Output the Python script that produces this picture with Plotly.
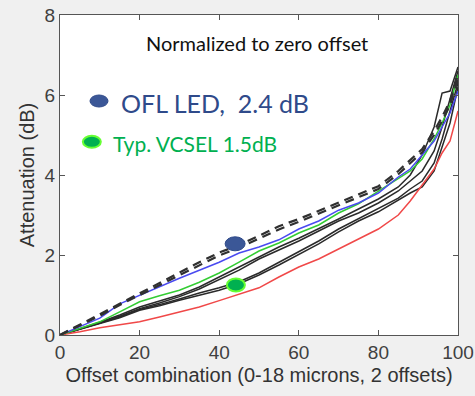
import plotly.graph_objects as go

x = [0, 5, 10, 15, 20, 25, 30, 35, 40, 45, 50, 55, 60, 65, 70, 75, 80, 85, 88, 91, 94, 96, 98, 100]

red = [0, 0.08, 0.18, 0.25, 0.33, 0.45, 0.57, 0.7, 0.86, 1.02, 1.18, 1.45, 1.7, 1.9, 2.15, 2.4, 2.65, 3.0, 3.35, 3.75, 4.15, 4.55, 4.85, 5.6]
dash1 = [0, 0.26, 0.52, 0.8, 1.06, 1.32, 1.57, 1.82, 2.06, 2.25, 2.48, 2.72, 2.9, 3.1, 3.3, 3.5, 3.72, 4.1, 4.38, 4.65, 5.1, 5.45, 5.85, 6.5]
dash2 = [0, 0.23, 0.48, 0.75, 1.0, 1.26, 1.5, 1.75, 1.99, 2.18, 2.4, 2.64, 2.83, 3.03, 3.23, 3.43, 3.65, 4.02, 4.3, 4.57, 5.0, 5.35, 5.75, 6.4]
blue = [0, 0.2, 0.42, 0.78, 1.0, 1.2, 1.42, 1.62, 1.82, 2.05, 2.2, 2.38, 2.65, 2.85, 3.12, 3.3, 3.55, 3.95, 4.15, 4.5, 4.85, 5.2, 5.55, 6.1]
green = [0, 0.17, 0.33, 0.58, 0.83, 0.98, 1.12, 1.32, 1.55, 1.82, 2.1, 2.3, 2.55, 2.75, 3.05, 3.28, 3.6, 3.9, 4.1, 4.4, 4.9, 5.3, 5.75, 6.5]
blackA = [0, 0.16, 0.32, 0.5, 0.7, 0.85, 1.0, 1.2, 1.45, 1.72, 1.95, 2.2, 2.42, 2.65, 2.9, 3.15, 3.4, 3.7, 4.0, 4.5, 5.2, 6.05, 6.1, 6.7]
blackB = [0, 0.15, 0.3, 0.47, 0.66, 0.8, 0.96, 1.15, 1.38, 1.62, 1.9, 2.12, 2.35, 2.6, 2.85, 3.05, 3.3, 3.6, 3.85, 4.1, 4.6, 5.2, 5.9, 6.6]
blackC = [0, 0.15, 0.29, 0.45, 0.64, 0.76, 0.9, 1.05, 1.18, 1.33, 1.55, 1.82, 2.1, 2.35, 2.65, 2.9, 3.15, 3.42, 3.65, 3.85, 4.3, 4.9, 5.6, 6.3]
blackD = [0, 0.14, 0.28, 0.43, 0.62, 0.73, 0.87, 1.0, 1.12, 1.28, 1.5, 1.75, 2.02, 2.28, 2.58, 2.85, 3.08, 3.38, 3.55, 3.7, 4.1, 4.7, 5.3, 6.2]

markers_x = [44, 44.2]
markers_y = [2.28, 1.25]

title_text = "Normalized to zero offset"
ofl_text = "OFL LED,  2.4 dB"
vcsel_text = "Typ. VCSEL 1.5dB"

fig = go.Figure()
for ys in [blackA, blackB, blackC, blackD]:
    fig.add_trace(go.Scatter(x=x, y=ys, mode="lines", line=dict(color="#2a2a2a", width=1.5)))
fig.add_trace(go.Scatter(x=x, y=red, mode="lines", line=dict(color="#f04848", width=1.5)))
fig.add_trace(go.Scatter(x=x, y=green, mode="lines", line=dict(color="#33cc33", width=1.5)))
fig.add_trace(go.Scatter(x=x, y=blue, mode="lines", line=dict(color="#4a4af0", width=1.5)))
for ys in [dash1, dash2]:
    fig.add_trace(go.Scatter(x=x, y=ys, mode="lines", line=dict(color="#303030", width=2.2, dash="9px,6px")))

shapes = []
def ell(cx, cy, w, h, fill, line, lw):
    return dict(type="circle", xref="x", yref="y", xsizemode="pixel", ysizemode="pixel",
                xanchor=cx, yanchor=cy, x0=-w/2, x1=w/2, y0=-h/2, y1=h/2,
                fillcolor=fill, line=dict(color=line, width=lw), layer="above")

shapes.append(ell(markers_x[0], markers_y[0], 20, 14, "#3b5797", "#2f4a8a", 1))
shapes.append(ell(markers_x[1], markers_y[1], 18, 13, "#00b050", "#66ff33", 2))
shapes.append(ell(9.8, 5.85, 18, 12, "#3b5797", "#2f4a8a", 1))
shapes.append(ell(8.0, 4.83, 18, 12, "#00b050", "#66ff33", 2))

annotations = [
    dict(x=49.5, y=7.3, xref="x", yref="y", text=title_text, showarrow=False,
         font=dict(family="Lato", size=20, color="#111111")),
    dict(x=14.8, y=5.8, xref="x", yref="y", text=ofl_text, showarrow=False, xanchor="left",
         font=dict(family="Lato", size=25, color="#2f4a8a")),
    dict(x=12.7, y=4.8, xref="x", yref="y", text=vcsel_text, showarrow=False, xanchor="left",
         font=dict(family="Lato", size=21, color="#00b050")),
]

axis_common = dict(showline=True, linecolor="#555555", linewidth=1.2, mirror="ticks",
                   ticks="inside", ticklen=5, tickcolor="#555555", showgrid=False, zeroline=False,
                   automargin=False,
                   tickfont=dict(family="Liberation Sans, Arial", size=19, color="#404040"))

fig.update_layout(
    width=475, height=396, margin=dict(l=60, r=17, t=15, b=61),
    paper_bgcolor="#f0f0f0", plot_bgcolor="#ffffff", showlegend=False,
    shapes=shapes, annotations=annotations,
    xaxis=dict(range=[0, 100], tickvals=[0, 20, 40, 60, 80, 100], **axis_common,
               title=dict(text="Offset combination (0-18 microns, 2 offsets)", standoff=6,
                          font=dict(family="Liberation Sans, Arial", size=20, color="#333333"))),
    yaxis=dict(range=[0, 8], tickvals=[0, 2, 4, 6, 8], **axis_common,
               title=dict(text="Attenuation (dB)", standoff=4,
                          font=dict(family="Liberation Sans, Arial", size=20, color="#333333"))),
)

fig.write_html("out.html")
